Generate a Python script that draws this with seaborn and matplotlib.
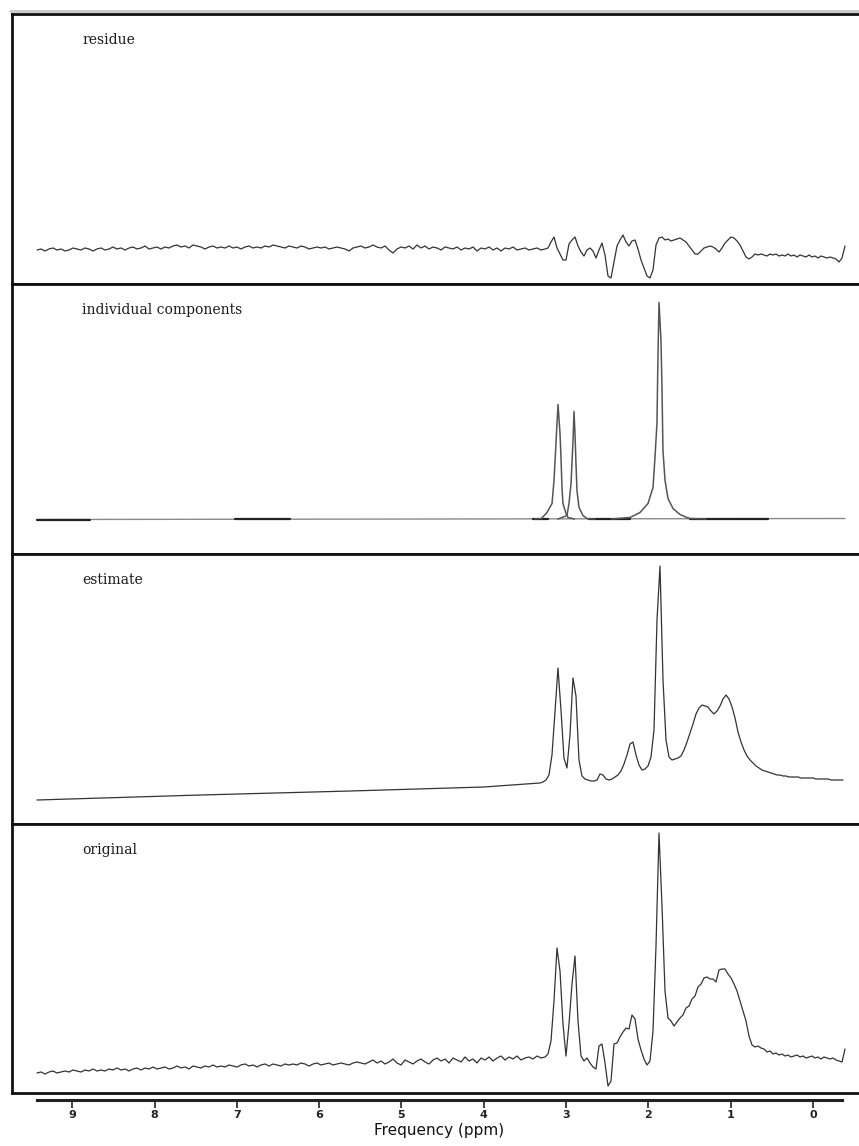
import numpy as np
import matplotlib
matplotlib.use("Agg")
import matplotlib.pyplot as plt
from matplotlib.lines import Line2D
import seaborn as sns

# ---------------- data ----------------
panel_labels = ["residue", "individual components", "estimate", "original"]
tick_ppm = [9, 8, 7, 6, 5, 4, 3, 2, 1, 0]
x_label = "Frequency (ppm)"

# sampled traces: left (noisy baseline) and right (signal) sections, ppm span of each
left_span = (9.429, 3.256)
right_span = (3.220, -0.389)

residue_left = [
    34, 35, 33, 35, 36, 34, 35, 33, 34, 36, 35, 34, 36, 35, 33, 35,
    36, 34, 35, 37, 35, 36, 34, 36, 37, 35, 36, 38, 35, 36, 37, 35,
    37, 36, 38, 39, 37, 38, 36, 39, 38, 37, 35, 37, 38, 36, 37, 36,
    38, 36, 37, 35, 37, 38, 36, 37, 36, 38, 37, 39, 38, 37, 36, 38,
    37, 36, 38, 37, 35, 36, 37, 36, 37, 35, 36, 37, 36, 35, 33, 36,
    37, 38, 36, 37, 39, 37, 36, 38, 34, 31, 35, 37, 36, 38, 35, 39,
    36, 38, 35, 37, 36, 34, 37, 36, 35, 37, 34, 36, 35, 37, 33, 36,
    35, 37, 34, 36, 33, 36, 35, 37, 34, 35, 36, 34, 35, 36, 34, 35]
residue_right = [
    36, 42, 47, 36, 30, 24, 24, 40, 44, 47,
    38, 32, 28, 34, 36, 33, 26, 34, 41, 29,
    8, 6, 22, 38, 44, 49, 42, 38, 43, 44,
    35, 24, 16, 8, 6, 14, 39, 46, 47, 44,
    45, 43, 44, 45, 46, 44, 42, 38, 34, 30,
    30, 33, 36, 37, 38, 37, 35, 32, 36, 41,
    44, 47, 46, 43, 39, 33, 27, 25, 27, 30,
    29, 30, 29, 28, 30, 29, 30, 28, 29, 28,
    30, 28, 29, 27, 29, 28, 27, 29, 27, 28,
    26, 28, 27, 26, 27, 26, 25, 22, 26, 38]

original_left = [
    20, 21, 19, 21, 22, 20, 21, 22, 21, 23, 22, 21, 23, 22, 24, 22,
    23, 22, 24, 23, 25, 23, 24, 22, 24, 25, 23, 25, 24, 26, 24, 25,
    26, 24, 25, 27, 25, 26, 24, 27, 26, 25, 27, 26, 28, 26, 27, 26,
    28, 27, 26, 28, 29, 27, 28, 26, 28, 29, 27, 29, 28, 27, 29, 28,
    29, 28, 30, 29, 27, 29, 30, 28, 29, 30, 28, 29, 30, 29, 28, 30,
    31, 30, 29, 31, 33, 30, 32, 29, 31, 34, 30, 28, 33, 31, 29, 32,
    34, 31, 29, 33, 35, 32, 34, 30, 35, 33, 31, 36, 32, 34, 30, 35,
    33, 36, 32, 35, 37, 33, 36, 34, 37, 33, 35, 36, 34, 37, 35, 36]
original_right = [
    39, 52, 92, 145, 122, 69, 37, 69, 109, 137,
    72, 37, 32, 35, 30, 26, 24, 47, 49, 30,
    7, 12, 49, 50, 56, 61, 65, 64, 78, 74,
    54, 43, 34, 28, 32, 62, 147, 260, 187, 102,
    75, 72, 67, 71, 75, 78, 85, 87, 94, 97,
    106, 109, 115, 116, 114, 114, 111, 123, 124, 124,
    119, 115, 109, 102, 92, 82, 72, 57, 48, 46,
    47, 45, 44, 41, 42, 39, 40, 38, 39, 37,
    38, 36, 37, 38, 36, 37, 35, 36, 37, 35,
    36, 34, 36, 35, 34, 35, 33, 32, 31, 44]

estimate_left_ppm = [9.429, 7.44, 5.62, 4.00, 3.317]
estimate_left = [24, 29, 33, 37, 41]
estimate_right_span = (3.281, -0.365)
estimate_right = [
    42, 44, 49, 69, 112, 156, 114, 66, 56, 89,
    146, 128, 64, 48, 45, 44, 43, 43, 44, 50,
    49, 45, 44, 45, 47, 49, 53, 60, 69, 80,
    82, 69, 59, 54, 55, 58, 67, 94, 204, 258,
    144, 84, 67, 64, 65, 66, 68, 74, 82, 91,
    100, 110, 116, 119, 118, 117, 113, 110, 113, 118,
    125, 129, 125, 117, 106, 92, 82, 74, 68, 64,
    61, 58, 56, 54, 53, 52, 51, 50, 49, 49,
    48, 48, 47, 47, 47, 47, 46, 46, 46, 46,
    46, 45, 45, 45, 45, 45, 44, 44, 44, 44, 44]

comp_base_ppm = [9.43, -0.39]
comp_base = [34.5, 35.5]
comp_b_ppm = [3.38, 3.30, 3.232, 3.171, 3.147, 3.123, 3.111, 3.098, 3.074,
              3.062, 3.050, 3.038, 3.001, 2.977, 2.90]
comp_b = [35, 35.5, 41.5, 50.5, 73.5, 110.5, 130.5, 149.5, 120.5,
          96.5, 66.5, 50.5, 40.5, 36.5, 35]
comp_c_ppm = [3.10, 3.05, 2.989, 2.965, 2.940, 2.916, 2.904, 2.892, 2.880,
              2.868, 2.843, 2.795, 2.746, 2.65]
comp_c = [35, 36.5, 38.5, 50.5, 70.5, 113.5, 142.5, 120.5, 90.5,
          63.5, 46.5, 38.5, 35.5, 35]
comp_d_ppm = [2.45, 2.224, 2.102, 2.005, 1.944, 1.920, 1.896, 1.884, 1.871,
              1.847, 1.835, 1.823, 1.798, 1.762, 1.701, 1.616, 1.531, 1.495, 1.30]
comp_d = [35, 36.5, 41.5, 50.5, 66.5, 96.5, 130.5, 196.5, 251.5,
          213.5, 166.5, 103.5, 73.5, 55.5, 45.5, 39.5, 36.5, 35.5, 35]
minor_ppm = [(9.43, 8.78), (7.02, 6.35), (3.40, 3.22), (2.72, 2.22), (1.50, 0.55)]
minor_level = [34.5, 35.2, 35.0, 35.0, 35.3]

# ---------------- layout ----------------
W, H = 859, 1146
DPI = 100
frame_l, frame_r = 12, 862
edges = [14, 284, 554, 824, 1093]
ppm_at = lambda px: (813 - px) / 82.3   # pixel -> ppm for the frame geometry
axis_l, axis_r, axis_y = 37, 842, 1100

sns.set_style("white")
plt.rcParams["font.family"] = ["DejaVu Sans"]

fig = plt.figure(figsize=(W / DPI, H / DPI), dpi=DPI)
fig.patch.set_facecolor("white")

line_kw = dict(color="#333333", linewidth=0.9, estimator=None, sort=False)

axes = []
for i in range(4):
    top, bot = edges[i], edges[i + 1]
    ax = fig.add_axes([frame_l / W, 1 - bot / H, (frame_r - frame_l) / W, (bot - top) / H])
    ax.set_xlim(ppm_at(frame_l), ppm_at(frame_r))
    ax.set_ylim(0, bot - top)
    ax.set_xticks([])
    ax.set_yticks([])
    for s in ax.spines.values():
        s.set_visible(True)
        s.set_linewidth(2.0)
        s.set_color("#111111")
    ax.text((82 - frame_l) / (frame_r - frame_l), 1 - 26 / (bot - top), panel_labels[i],
            transform=ax.transAxes, fontsize=10, family="DejaVu Serif",
            color="#1a1a1a", ha="left", va="center")
    axes.append(ax)


def joined(parts):
    xs, ys = [], []
    for px, vals in parts:
        xs.append(np.asarray(px, float))
        ys.append(np.asarray(vals, float))
    return np.concatenate(xs), np.concatenate(ys)


def grid(span, vals):
    return np.linspace(span[0], span[1], len(vals))

# residue
x, y = joined([(grid(left_span, residue_left), residue_left),
               (grid(right_span, residue_right), residue_right)])
sns.lineplot(x=x, y=y, ax=axes[0], **line_kw)

# individual components
sns.lineplot(x=comp_base_ppm, y=comp_base, ax=axes[1], color="#8a8a8a", linewidth=1.0,
             estimator=None, sort=False)
for (a, b), lev in zip(minor_ppm, minor_level):
    sns.lineplot(x=[a, b], y=[lev, lev], ax=axes[1], color="#222222", linewidth=1.6,
                 estimator=None, sort=False)
for px, py in [(comp_b_ppm, comp_b), (comp_c_ppm, comp_c), (comp_d_ppm, comp_d)]:
    sns.lineplot(x=px, y=py, ax=axes[1], color="#555555", linewidth=1.1,
                 estimator=None, sort=False)

# estimate
x, y = joined([(estimate_left_ppm, estimate_left),
               (grid(estimate_right_span, estimate_right), estimate_right)])
sns.lineplot(x=x, y=y, ax=axes[2], **line_kw)

# original
x, y = joined([(grid(left_span, original_left), original_left),
               (grid(right_span, original_right), original_right)])
sns.lineplot(x=x, y=y, ax=axes[3], **line_kw)

for ax in axes:
    ax.set_xlabel("")
    ax.set_ylabel("")
    if ax.get_legend():
        ax.get_legend().remove()

# bottom frequency axis
axx = fig.add_axes([axis_l / W, 1 - axis_y / H, (axis_r - axis_l) / W, 0.0005])
axx.set_xlim(ppm_at(axis_l), ppm_at(axis_r))
axx.set_yticks([])
for s in ["top", "left", "right"]:
    axx.spines[s].set_visible(False)
axx.spines["bottom"].set_linewidth(2.2)
axx.spines["bottom"].set_color("#222222")
axx.set_xticks(tick_ppm)
axx.set_xticklabels([str(t) for t in tick_ppm], fontweight="bold")
axx.tick_params(axis="x", direction="out", length=6, width=1.2, labelsize=8, pad=1,
                colors="#222222", bottom=True)
axx.set_xlabel(x_label, fontsize=11, labelpad=2, color="#111111")
axx.patch.set_alpha(0)

# light window edge above the frame
fig.add_artist(Line2D([10 / W, 1], [1 - 11 / H, 1 - 11 / H], color="#c8c8c8", linewidth=2,
                      transform=fig.transFigure))

fig.savefig("out.png", dpi=DPI, facecolor="white")
